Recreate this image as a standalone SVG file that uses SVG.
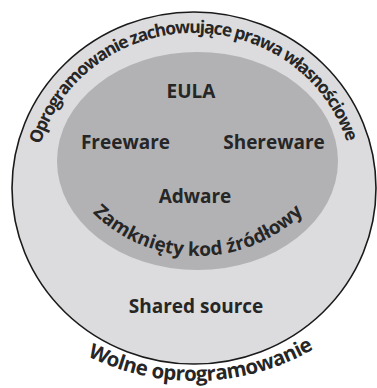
<svg xmlns="http://www.w3.org/2000/svg" width="377" height="388" viewBox="0 0 377 388">
<style>
.lbl{font-family:"Open Sans","DejaVu Sans",sans-serif;font-weight:700;fill:#262626;}
.c{text-anchor:middle;font-size:19px;}
</style>
<defs>
<path id="pTop" d="M 34 188 A 160 155 0 0 1 354 188"/>
<path id="pInner" d="M 48 106 A 150 150 0 0 0 348 106"/>
<path id="pBottom" d="M -47 140 A 241 241 0 0 0 435 140"/>
</defs>
<rect width="377" height="388" fill="#ffffff"/>
<g id="wolne">
<ellipse cx="194" cy="188" rx="182" ry="176" fill="#dcdcde" stroke="#1a1a1a" stroke-width="1.6"/>
<text class="lbl" font-size="17.5"><textPath href="#pTop" startOffset="44" textLength="404" lengthAdjust="spacing">Oprogramowanie zachowujące prawa własnościowe</textPath></text>
<text class="lbl" font-size="20.5"><textPath href="#pBottom" startOffset="386" text-anchor="middle" textLength="236" lengthAdjust="spacing">Wolne oprogramowanie</textPath></text>
<text class="lbl c" x="196" y="313">Shared source</text>
</g>
<g id="zamkniety">
<ellipse cx="197.5" cy="161" rx="140.5" ry="109" fill="#b2b2b5"/>
<text class="lbl" font-size="19"><textPath href="#pInner" startOffset="50%" text-anchor="middle">Zamknięty kod źródłowy</textPath></text>
</g>
<g id="eula"><text class="lbl c" x="191" y="98">EULA</text></g>
<g id="freeware"><text class="lbl c" x="125.5" y="149">Freeware</text></g>
<g id="shereware"><text class="lbl c" x="274" y="149">Shereware</text></g>
<g id="adware"><text class="lbl c" x="195" y="203">Adware</text></g>
<g id="connectors"></g>
</svg>
